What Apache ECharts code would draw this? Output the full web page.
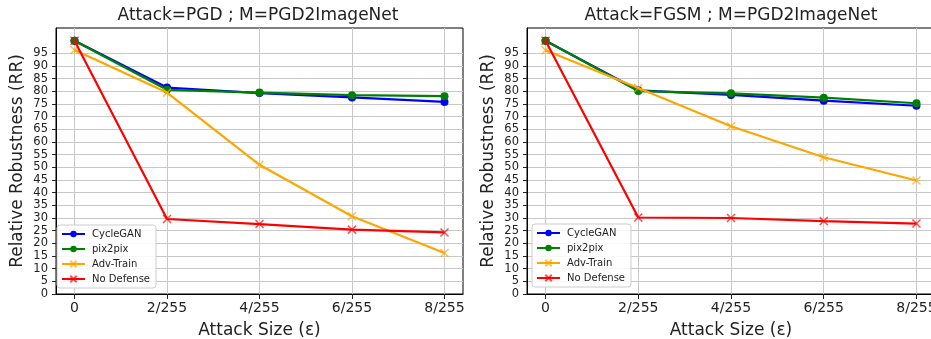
<!DOCTYPE html>
<html>
<head>
<meta charset="utf-8">
<script src="https://cdn.jsdelivr.net/npm/echarts@6/dist/echarts.min.js"></script>
<style>
  html, body { margin: 0; padding: 0; background: #fff; }
  #chart { width: 931px; height: 339px; }
</style>
</head>
<body>
<div id="chart"></div>
<script>
// Attack sizes (epsilon) and their tick labels
const epsIndex = [0, 1, 2, 3, 4];
const epsLabels = ['0', '2/255', '4/255', '6/255', '8/255'];
const yTickValues = [0, 5, 10, 15, 20, 25, 30, 35, 40, 45, 50, 55, 60, 65, 70, 75, 80, 85, 90, 95];

const seriesNames = ['CycleGAN', 'pix2pix', 'Adv-Train', 'No Defense'];

// Relative robustness under PGD
const cycleGAN_PGD = [100, 81.5, 79.3, 77.6, 75.8];
const pix2pix_PGD = [100, 80.6, 79.5, 78.5, 78.1];
const advTrain_PGD = [96.3, 79.5, 51.0, 30.7, 16.2];
const noDefense_PGD = [100, 29.6, 27.6, 25.4, 24.3];

// Relative robustness under FGSM
const cycleGAN_FGSM = [100, 80.4, 78.6, 76.3, 74.3];
const pix2pix_FGSM = [100, 80.1, 79.2, 77.5, 75.3];
const advTrain_FGSM = [96.2, 81.3, 66.2, 54.0, 44.8];
const noDefense_FGSM = [100, 30.2, 30.0, 28.8, 27.8];

const FONT = 'DejaVu Sans';
const colors = ['#0000ff', '#008000', '#ffa500', '#ff0000'];
const symbols = ['circle', 'circle', 'path://M0,0L10,10M10,0L0,10', 'path://M0,0L10,10M10,0L0,10'];

function pairs(values) {
  return epsIndex.map((x, i) => [x, values[i]]);
}

function makeSeries(name, idx, values, gridIdx) {
  const isCross = idx >= 2;
  return {
    name: name,
    type: 'line',
    xAxisIndex: gridIdx,
    yAxisIndex: gridIdx,
    data: pairs(values),
    symbol: symbols[idx],
    symbolSize: 8,
    showSymbol: true,
    lineStyle: { color: colors[idx], width: 2.2 },
    itemStyle: {
      color: isCross ? 'rgba(0,0,0,0)' : colors[idx],
      borderColor: colors[idx],
      borderWidth: isCross ? 1.5 : 0,
      opacity: isCross ? 0.7 : 1
    },
    emphasis: { disabled: true },
    animation: false,
    z: 2 + idx
  };
}

function makeXAxis(gridIdx) {
  return {
    type: 'value',
    gridIndex: gridIdx,
    min: -0.2,
    max: 4.2,
    name: 'Attack Size (ε)',
    nameLocation: 'middle',
    nameGap: 28,
    nameTextStyle: { fontFamily: FONT, fontSize: 17, color: '#222' },
    axisLine: { show: true, onZero: false, lineStyle: { color: '#000', width: 1 } },
    axisTick: { show: true, length: 5, customValues: epsIndex, lineStyle: { color: '#222' } },
    axisLabel: {
      customValues: epsIndex,
      formatter: v => epsLabels[Math.round(v)],
      fontFamily: FONT, fontSize: 14, color: '#222', margin: 7
    },
    splitLine: { show: true, lineStyle: { color: '#c8c8c8', width: 1 } }
  };
}

function makeYAxis(gridIdx) {
  return {
    type: 'value',
    gridIndex: gridIdx,
    min: 0,
    max: 105,
    interval: 5,
    name: 'Relative Robustness (RR)',
    nameLocation: 'middle',
    nameGap: 30,
    nameTextStyle: { fontFamily: FONT, fontSize: 17, color: '#222' },
    axisLine: { show: true, onZero: false, lineStyle: { color: '#000', width: 1 } },
    axisTick: { show: true, length: 4, customValues: yTickValues, lineStyle: { color: '#222' } },
    axisLabel: {
      customValues: yTickValues,
      fontFamily: FONT, fontSize: 11.5, color: '#222', margin: 8
    },
    splitLine: { show: true, lineStyle: { color: '#c8c8c8', width: 1 } }
  };
}

function makeLegend(left, top) {
  return {
    orient: 'vertical',
    left: left,
    top: top,
    data: seriesNames,
    itemWidth: 23,
    itemHeight: 8,
    itemGap: 5,
    padding: [4, 6, 4, 4],
    backgroundColor: 'rgba(255,255,255,0.85)',
    borderColor: '#cccccc',
    borderWidth: 1,
    borderRadius: 3,
    textStyle: { fontFamily: FONT, fontSize: 10, color: '#222', padding: [0, 0, 0, 2] },
    selectedMode: false
  };
}

const chart = echarts.init(document.getElementById('chart'), null, { renderer: 'canvas' });

const pgd = [cycleGAN_PGD, pix2pix_PGD, advTrain_PGD, noDefense_PGD];
const fgsm = [cycleGAN_FGSM, pix2pix_FGSM, advTrain_FGSM, noDefense_FGSM];

const series = [];
seriesNames.forEach((n, i) => series.push(makeSeries(n, i, pgd[i], 0)));
seriesNames.forEach((n, i) => series.push(makeSeries(n, i, fgsm[i], 1)));

chart.setOption({
  backgroundColor: '#ffffff',
  animation: false,
  title: [
    {
      text: 'Attack=PGD ; M=PGD2ImageNet',
      left: 258, top: 7, textAlign: 'center', padding: 0,
      textStyle: { fontFamily: FONT, fontSize: 17, fontWeight: 'normal', color: '#222' }
    },
    {
      text: 'Attack=FGSM ; M=PGD2ImageNet',
      left: 731, top: 7, textAlign: 'center', padding: 0,
      textStyle: { fontFamily: FONT, fontSize: 17, fontWeight: 'normal', color: '#222' }
    }
  ],
  legend: [makeLegend(57, 225), makeLegend(532, 224)],
  grid: [
    { left: 56, top: 28, width: 407, height: 266, outerBoundsMode: 'none', containLabel: false, show: true, borderColor: '#000', borderWidth: 1, backgroundColor: 'transparent' },
    { left: 527, top: 28, width: 408, height: 266, outerBoundsMode: 'none', containLabel: false, show: true, borderColor: '#000', borderWidth: 1, backgroundColor: 'transparent' }
  ],
  xAxis: [makeXAxis(0), makeXAxis(1)],
  yAxis: [makeYAxis(0), makeYAxis(1)],
  series: series
});
</script>
</body>
</html>
